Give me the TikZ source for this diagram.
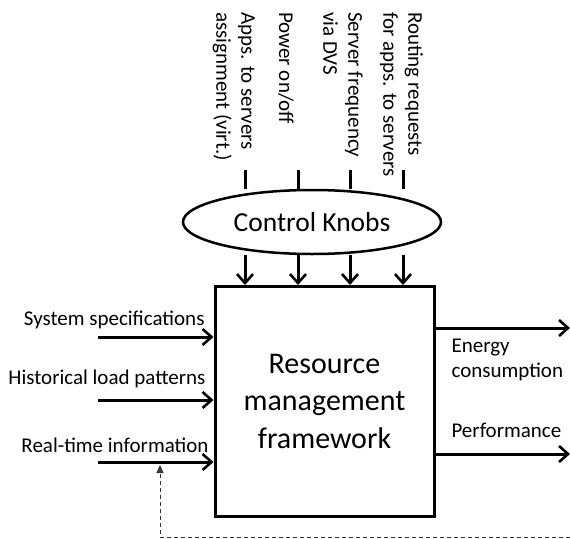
\documentclass[tikz,border=0pt]{standalone}
\usepackage{fontspec}
\setmainfont{Carlito}
\usetikzlibrary{arrows.meta, positioning, shapes.geometric}
\tikzset{
    >={Straight Barb[length=9pt, width=16pt, line width=2.6pt]}, % open arrow heads
    every node/.style={font=\fontsize{21}{25}\selectfont}, % label text
    thickline/.style={line width=3pt}, % the main lines
}

\begin{document}
\begin{tikzpicture}[
                                x=1pt, y=-1pt,
                                framebox/.style={draw, line width=3pt, minimum width=219pt, minimum height=230pt, align=center, font=\fontsize{30}{37.5}\selectfont},
                                knobs/.style={draw, ellipse, line width=2.5pt, minimum width=258pt, minimum height=64pt, font=\fontsize{27.5}{30}\selectfont},
                                knoblabel/.style={rotate=-90, anchor=north west, align=left, inner sep=0pt},
                                feedback/.style={dash pattern=on 4pt off 3pt, line width=0.9pt, draw=black!80},
                            ]
                            \useasboundingbox (0,0) rectangle (570,538);
                            \node[framebox] (frame) at (324.5,401) {Resource\\management\\framework};
                            \node[knobs] (knobs) at (312,222) {Control Knobs};
                            % knob inputs
                            \node[knoblabel] (apps) at (255,12) {Apps. to servers\\assignment (virt.)};
                            \node[knoblabel] (power) at (294,12) {Power on/off};
                            \node[knoblabel] (freq) at (363,12) {Server frequency\\via DVS};
                            \node[knoblabel] (route) at (423,12) {Routing requests\\for apps. to servers};
                            \foreach \x/\n in {245/a, 298/b, 350/c, 403/d} {
                                \coordinate (top\n) at (\x,170);
                                \coordinate (low\n) at (\x,285);
                                \draw[thickline] (top\n) -- (top\n |- knobs.north);
                                \draw[thickline, ->] (low\n |- knobs.south) -- (low\n);
                            }
                            % inputs on the left
                            \coordinate (spec) at (98,337);
                            \coordinate (hist) at (98,400);
                            \coordinate (real) at (98,462);
                            \draw[thickline, ->] (spec) -- (spec -| frame.west);
                            \draw[thickline, ->] (hist) -- (hist -| frame.west);
                            \draw[thickline, ->] (real) -- (real -| frame.west);
                            \node[anchor=base east] (specl) at (208,325) {System specifications};
                            \node[anchor=base east] (histl) at (209,384) {Historical load patterns};
                            \node[anchor=base east] (reall) at (212,452) {Real-time information};
                            % outputs on the right
                            \coordinate (energy) at (570,328);
                            \coordinate (perf) at (570,454);
                            \draw[thickline, ->] (energy -| frame.east) -- (energy);
                            \draw[thickline, ->] (perf -| frame.east) -- (perf);
                            \node[anchor=base west, align=left] (energyl) at (448,377) {Energy\\consumption};
                            \node[anchor=base west] (perfl) at (448,437) {Performance};
                            % feedback loop
                            \coordinate (loopr) at (570,537);
                            \coordinate (loopl) at (160,537);
                            \coordinate (loopt) at (160,465);
                            \draw[feedback, -{Triangle[length=8pt, width=7pt]}] (loopr) -- (loopl) -- (loopt);
                        \end{tikzpicture}
\end{document}
